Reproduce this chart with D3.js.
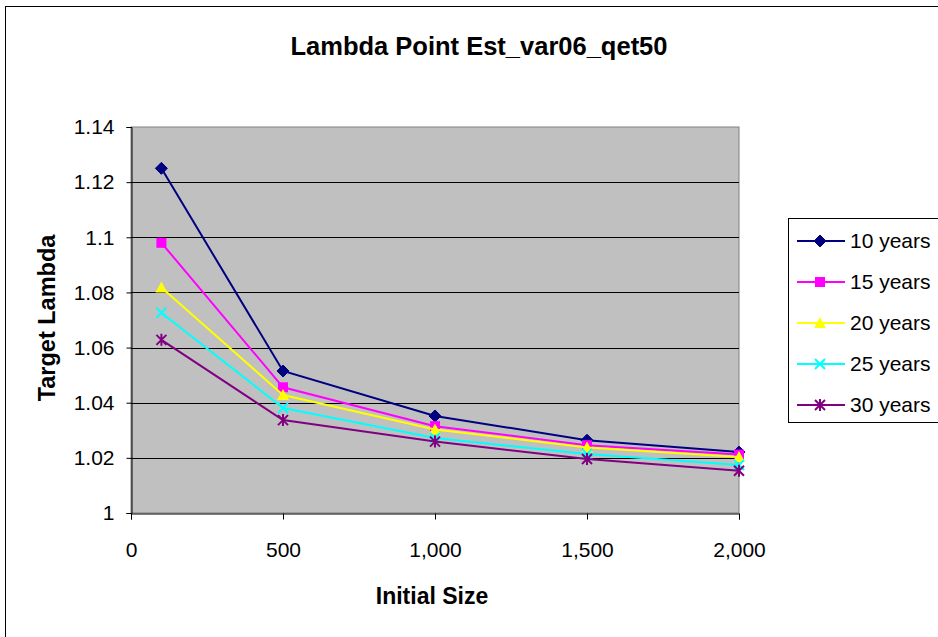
<!DOCTYPE html>
<html>
<head>
<meta charset="utf-8">
<script src="https://cdn.jsdelivr.net/npm/d3@7"></script>
<style>
  html, body { margin: 0; padding: 0; background: #fff; }
  svg { display: block; font-family: Arial, "Liberation Sans", sans-serif; }
</style>
</head>
<body>
<svg id="chart" width="938" height="637"></svg>
<script>
// Initial population sizes on the x axis
const sizes = [100, 500, 1000, 1500, 2000];

// Estimated lambda for each time horizon
const years10 = [1.125, 1.0515, 1.0352, 1.0264, 1.0221];
const years15 = [1.098, 1.0456, 1.0315, 1.0246, 1.0212];
const years20 = [1.0818, 1.0428, 1.0303, 1.0238, 1.0203];
const years25 = [1.0726, 1.0381, 1.0272, 1.0214, 1.0174];
const years30 = [1.0628, 1.0337, 1.0259, 1.0196, 1.0153];

const seriesNames = ["10 years", "15 years", "20 years", "25 years", "30 years"];
const seriesColors = ["#000080", "#FF00FF", "#FFFF00", "#00FFFF", "#800080"];
const seriesMarkers = ["diamond", "square", "triangle", "x", "star"];
const seriesValues = [years10, years15, years20, years25, years30];

const yTicks = [1, 1.02, 1.04, 1.06, 1.08, 1.1, 1.12, 1.14];
const xTicks = [0, 500, 1000, 1500, 2000];

const FONT = "Arial, 'Liberation Sans', sans-serif";
const svg = d3.select("#chart");

// Chart frame
svg.append("rect").attr("x", 5.5).attr("y", 6.5).attr("width", 940).attr("height", 640)
  .attr("fill", "#fff").attr("stroke", "#000").attr("stroke-width", 1);

const plot = { left: 131, right: 739, top: 127, bottom: 513 };

const x = d3.scaleLinear().domain([0, 2000]).range([plot.left, plot.right]);
const y = d3.scaleLinear().domain([1, 1.14]).range([plot.bottom, plot.top]);

// Plot area
svg.append("rect")
  .attr("x", plot.left).attr("y", plot.top)
  .attr("width", plot.right - plot.left).attr("height", plot.bottom - plot.top)
  .attr("fill", "#C0C0C0").attr("stroke", "#808080").attr("stroke-width", 1);

// Horizontal gridlines
svg.append("g").selectAll("line")
  .data(yTicks.filter(t => t > 1 && t < 1.14))
  .join("line")
  .attr("x1", plot.left).attr("x2", plot.right)
  .attr("y1", d => Math.round(y(d)) + 0.5).attr("y2", d => Math.round(y(d)) + 0.5)
  .attr("stroke", "#000").attr("stroke-width", 1);

// Y axis
const yAxis = svg.append("g")
  .attr("transform", `translate(${plot.left + 0.5},0)`)
  .call(d3.axisLeft(y).tickValues(yTicks).tickSize(5).tickPadding(12)
    .tickFormat(d => String(+d.toFixed(2))));
yAxis.select(".domain").attr("stroke", "#000");
yAxis.selectAll(".tick line").attr("stroke", "#000");
yAxis.selectAll("text").attr("font-size", 21).attr("fill", "#000").attr("font-family", FONT);

// X axis
const xAxis = svg.append("g")
  .attr("transform", `translate(0,${plot.bottom + 0.5})`)
  .call(d3.axisBottom(x).tickValues(xTicks).tickSize(6).tickPadding(23)
    .tickFormat(d3.format(",")));
xAxis.select(".domain").attr("stroke", "#000");
xAxis.selectAll(".tick line").attr("stroke", "#000");
xAxis.selectAll("text").attr("font-size", 21).attr("fill", "#000").attr("font-family", FONT);

// Marker shapes
function drawMarker(g, type, color, cx, cy) {
  const s = 5;
  if (type === "diamond") {
    g.append("path").attr("d", `M${cx},${cy - s - 1}L${cx + s + 1},${cy}L${cx},${cy + s + 1}L${cx - s - 1},${cy}Z`)
      .attr("fill", color).attr("stroke", color);
  } else if (type === "square") {
    g.append("rect").attr("x", cx - s).attr("y", cy - s).attr("width", 2 * s).attr("height", 2 * s)
      .attr("fill", color);
  } else if (type === "triangle") {
    g.append("path").attr("d", `M${cx},${cy - s - 1}L${cx + s + 1},${cy + s}L${cx - s - 1},${cy + s}Z`)
      .attr("fill", color);
  } else if (type === "x") {
    g.append("path").attr("d", `M${cx - s},${cy - s}L${cx + s},${cy + s}M${cx - s},${cy + s}L${cx + s},${cy - s}`)
      .attr("stroke", color).attr("stroke-width", 2).attr("fill", "none");
  } else if (type === "star") {
    g.append("path").attr("d", `M${cx - s},${cy - s}L${cx + s},${cy + s}M${cx - s},${cy + s}L${cx + s},${cy - s}M${cx},${cy - s - 1}L${cx},${cy + s + 1}`)
      .attr("stroke", color).attr("stroke-width", 2).attr("fill", "none");
  }
}

const line = d3.line().x((d, i) => x(sizes[i])).y(d => y(d));

seriesValues.forEach((vals, k) => {
  const g = svg.append("g");
  g.append("path").datum(vals).attr("d", line)
    .attr("fill", "none").attr("stroke", seriesColors[k]).attr("stroke-width", 2);
  vals.forEach((v, i) => drawMarker(g, seriesMarkers[k], seriesColors[k], x(sizes[i]), y(v)));
});

// Title and axis titles
svg.append("text").attr("x", 479).attr("y", 55).attr("text-anchor", "middle")
  .attr("font-size", 25.5).attr("font-weight", "bold").attr("font-family", FONT)
  .text("Lambda Point Est_var06_qet50");

svg.append("text").attr("x", 432).attr("y", 604).attr("text-anchor", "middle")
  .attr("font-size", 23).attr("font-weight", "bold").attr("font-family", FONT)
  .text("Initial Size");

svg.append("text").attr("transform", "translate(55,318) rotate(-90)")
  .attr("text-anchor", "middle").attr("font-size", 23.5).attr("font-weight", "bold")
  .attr("font-family", FONT).text("Target Lambda");

// Legend
const legend = svg.append("g");
legend.append("rect").attr("x", 788.5).attr("y", 218.5).attr("width", 160).attr("height", 204)
  .attr("fill", "#fff").attr("stroke", "#000");
seriesNames.forEach((name, k) => {
  const ly = 241 + k * 41;
  legend.append("line").attr("x1", 797).attr("x2", 845).attr("y1", ly).attr("y2", ly)
    .attr("stroke", seriesColors[k]).attr("stroke-width", 2);
  drawMarker(legend, seriesMarkers[k], seriesColors[k], 820, ly);
  legend.append("text").attr("x", 850).attr("y", ly + 7).attr("font-size", 21)
    .attr("font-family", FONT).text(name);
});
</script>
</body>
</html>
